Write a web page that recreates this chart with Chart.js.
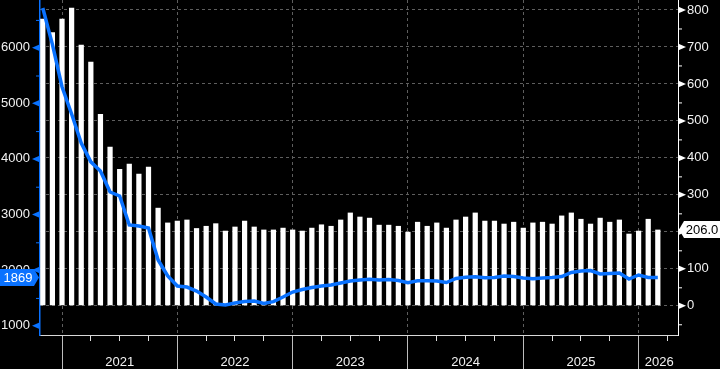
<!DOCTYPE html>
<html>
<head>
<meta charset="utf-8">
<script src="https://cdn.jsdelivr.net/npm/chart.js@4/dist/chart.umd.min.js"></script>
<style>
  html, body { margin: 0; padding: 0; background: #000; }
  canvas { display: block; }
</style>
</head>
<body>
<canvas id="chart" width="720" height="369"></canvas>
<script>
// monthly points, Oct 2020 .. Feb 2026 (x = month index)
const months = [];
for (let i = 0; i < 65; i++) {
  const m = (9 + i) % 12, y = 2020 + Math.floor((9 + i) / 12);
  months.push(y + '-' + String(m + 1).padStart(2, '0'));
}

// bars, right axis
const barValues = [776, 740, 776, 806, 706, 660, 519, 430, 370, 384, 357, 376,
  265, 225, 230, 233, 210, 216, 223, 203, 214, 230, 214, 206,
  206, 211, 206, 203, 211, 220, 216, 233, 252, 241, 238, 219,
  219, 216, 200, 227, 216, 225, 211, 233, 241, 252, 230, 230,
  222, 227, 211, 225, 227, 222, 244, 252, 235, 222, 238, 227,
  233, 195, 203, 235, 206];

// blue line, left axis
const lineValues = [6715, 6059, 5298, 4808, 4287, 3947, 3783, 3405, 3333, 2812,
  2794, 2758, 2182, 1894, 1714, 1696, 1624, 1516, 1390, 1372,
  1408, 1435, 1444, 1399, 1432, 1516, 1606, 1651, 1687, 1714,
  1732, 1768, 1804, 1822, 1835, 1822, 1831, 1813, 1774, 1810,
  1808, 1804, 1777, 1849, 1871, 1881, 1864, 1867, 1894, 1885,
  1858, 1846, 1858, 1867, 1885, 1957, 1984, 1993, 1930, 1939,
  1948, 1840, 1912, 1867, 1869];

const yearLabels = ['2021', '2022', '2023', '2024', '2025', '2026'];
const yearLabelPos = [8, 20, 32, 44, 56, 64.15];
const yearBreaks = [2, 14, 26, 38, 50, 62];

const BLUE = '#0a72ff';
const GRID = '#5e5e5e';
const TXT = '#f2f2f2';
const FONT = { family: 'Liberation Sans', size: 13 };

function noPad(s) { s.paddingTop = 0; s.paddingBottom = 0; s.paddingLeft = 0; s.paddingRight = 0; }

const axisMarks = {
  id: 'axisMarks',
  afterDraw(chart) {
    const ctx = chart.ctx;
    const yl = chart.scales.y, yr = chart.scales.y1;
    ctx.save();
    yl.ticks.forEach(t => {
      const p = yl.getPixelForValue(t.value);
      ctx.fillStyle = BLUE; ctx.strokeStyle = BLUE; ctx.lineWidth = 1;
      if (t.value % 1000 === 0) {
        ctx.beginPath(); ctx.moveTo(40, p - 3.5); ctx.lineTo(40, p + 3.5); ctx.lineTo(32, p); ctx.closePath(); ctx.fill();
      } else {
        ctx.beginPath(); ctx.moveTo(36, p + 0.5); ctx.lineTo(40, p + 0.5); ctx.stroke();
      }
    });
    yr.ticks.forEach(t => {
      const p = yr.getPixelForValue(t.value);
      ctx.fillStyle = '#fff'; ctx.strokeStyle = '#fff'; ctx.lineWidth = 1;
      if (t.value % 100 === 0 && t.value >= 0) {
        ctx.beginPath(); ctx.moveTo(678, p - 3.5); ctx.lineTo(678, p + 3.5); ctx.lineTo(686, p); ctx.closePath(); ctx.fill();
      } else {
        ctx.beginPath(); ctx.moveTo(678, p + 0.5); ctx.lineTo(682, p + 0.5); ctx.stroke();
      }
    });

    // last value boxes
    const lastLine = lineValues[lineValues.length - 1];
    const lastBar = barValues[barValues.length - 1];
    ctx.font = '13px "Liberation Sans"';
    ctx.textAlign = 'center'; ctx.textBaseline = 'middle';

    let p = yl.getPixelForValue(lastLine);
    ctx.fillStyle = BLUE;
    ctx.beginPath();
    ctx.moveTo(0, p - 8.5); ctx.lineTo(34, p - 8.5); ctx.lineTo(39, p); ctx.lineTo(34, p + 8.5); ctx.lineTo(0, p + 8.5);
    ctx.closePath(); ctx.fill();
    ctx.fillStyle = '#fff';
    ctx.fillText(String(lastLine), 18, p + 1);

    p = yr.getPixelForValue(lastBar);
    ctx.fillStyle = '#fff';
    ctx.beginPath();
    ctx.moveTo(679, p); ctx.lineTo(684, p - 8.5); ctx.lineTo(720, p - 8.5); ctx.lineTo(720, p + 8.5); ctx.lineTo(684, p + 8.5);
    ctx.closePath(); ctx.fill();
    ctx.fillStyle = '#000';
    ctx.fillText(lastBar.toFixed(1), 702, p + 1);
    ctx.restore();
  }
};

const isBreak = v => yearBreaks.includes(v);

new Chart(document.getElementById('chart'), {
  type: 'bar',
  data: {
    labels: months,
    datasets: [
      {
        type: 'line',
        data: lineValues.map((v, i) => ({ x: i, y: v })),
        yAxisID: 'y',
        borderColor: BLUE,
        borderWidth: 3.5,
        pointRadius: 0,
        tension: 0,
        order: 1
      },
      {
        type: 'bar',
        data: barValues.map((v, i) => ({ x: i, y: v })),
        yAxisID: 'y1',
        backgroundColor: '#fff',
        barPercentage: 0.64,
        categoryPercentage: 1,
        order: 2
      }
    ]
  },
  options: {
    responsive: false,
    animation: false,
    layout: { padding: 0 },
    plugins: { legend: { display: false }, tooltip: { enabled: false } },
    scales: {
      x: {
        type: 'linear',
        offset: false,
        min: -0.29,
        max: 66.1,
        afterBuildTicks: s => {
          const v = [];
          for (let i = 2; i <= 65; i += 3) v.push(i);
          v.push(64.15);
          v.sort((a, b) => a - b);
          s.ticks = v.map(value => ({ value }));
        },
        afterFit: s => { s.height = 34; noPad(s); },
        ticks: {
          autoSkip: false, maxRotation: 0, minRotation: 0, padding: -14,
          color: TXT, font: FONT,
          callback: v => { const k = yearLabelPos.indexOf(v); return k >= 0 ? yearLabels[k] : ''; }
        },
        grid: {
          offset: false,
          color: c => (c.tick && isBreak(c.tick.value)) ? GRID : 'transparent',
          tickLength: 34,
          tickColor: c => !c.tick ? 'transparent' : isBreak(c.tick.value) ? '#bdbdbd' : (c.tick.value === 64.15 ? 'transparent' : '#e0e0e0'),
          tickBorderDash: c => (c.tick && isBreak(c.tick.value)) ? [] : [5, 100],
          tickWidth: 1
        },
        border: { color: '#d8d8d8', width: 1, dash: [3, 3] }
      },
      y: {
        position: 'left',
        min: 833,
        max: 6858,
        afterBuildTicks: s => {
          const t = [];
          for (let v = 1000; v <= 6500; v += 500) t.push({ value: v });
          s.ticks = t;
        },
        afterFit: s => { s.width = 40; noPad(s); },
        ticks: { padding: 10, color: TXT, font: FONT, callback: v => v % 1000 === 0 ? String(v) : '' },
        grid: { drawOnChartArea: false, drawTicks: false },
        border: { color: BLUE, width: 1.5 }
      },
      y1: {
        position: 'right',
        min: -79,
        max: 827,
        afterBuildTicks: s => {
          const t = [];
          for (let v = -50; v <= 800; v += 50) t.push({ value: v });
          s.ticks = t;
        },
        afterFit: s => { s.width = 42; noPad(s); },
        ticks: { padding: 9, color: TXT, font: FONT, callback: v => (v % 100 === 0 && v >= 0) ? String(v) : '' },
        grid: {
          color: c => (c.tick && c.tick.value % 100 === 0 && c.tick.value >= 0) ? GRID : 'transparent',
          drawTicks: false
        },
        border: { color: '#ffffff', width: 1, dash: [3, 3] }
      }
    }
  },
  plugins: [axisMarks]
});
</script>
</body>
</html>
